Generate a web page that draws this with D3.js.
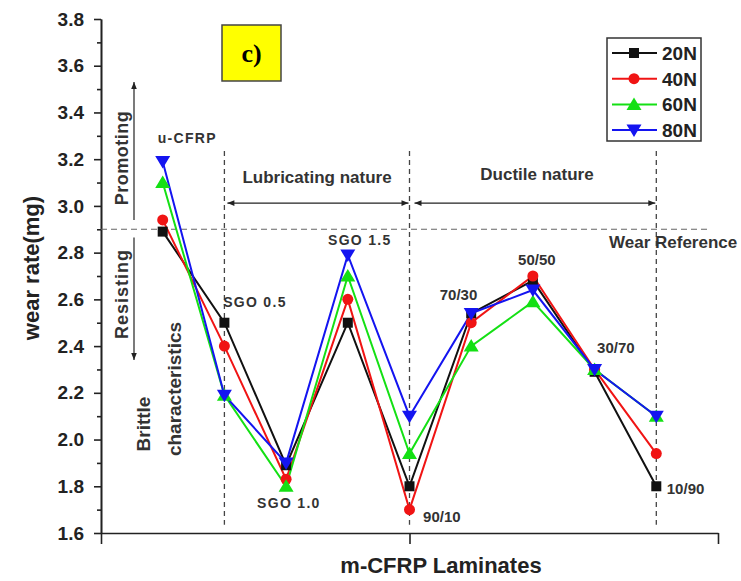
<!DOCTYPE html>
<html>
<head>
<meta charset="utf-8">
<script src="https://cdn.jsdelivr.net/npm/d3@7"></script>
<style>
  body { margin: 0; background: #fff; }
  svg { font-family: "Liberation Sans", Arial, sans-serif; }
  .tick text { font-weight: bold; font-size: 19px; fill: #222; }
  .lbl { font-weight: bold; fill: #333; }
</style>
</head>
<body>
<svg></svg>
<script>
let categories = ["u-CFRP", "SGO 0.5", "SGO 1.0", "SGO 1.5", "90/10", "70/30", "50/50", "30/70", "10/90"]
let seriesNames = ["20N", "40N", "60N", "80N"]
let load20 = [2.89, 2.50, 1.89, 2.50, 1.80, 2.54, 2.68, 2.29, 1.80]
let load40 = [2.94, 2.40, 1.83, 2.60, 1.70, 2.50, 2.70, 2.30, 1.94]
let load60 = [3.10, 2.19, 1.80, 2.70, 1.94, 2.40, 2.59, 2.30, 2.10]
let load80 = [3.19, 2.19, 1.90, 2.79, 2.10, 2.54, 2.64, 2.30, 2.10]
let yTicks = [1.6, 1.8, 2.0, 2.2, 2.4, 2.6, 2.8, 3.0, 3.2, 3.4, 3.6, 3.8]
let wearReference = 2.9

let colors = ["#111111", "#f01414", "#14e014", "#1414f0"]
let shapes = ["square", "circle", "triangle", "down"]
let allSeries = [load20, load40, load60, load80]

var svg = d3.select("svg")
    .attr("width", 741)
    .attr("height", 581)

let scX = d3.scaleLinear().domain([0, 10]).range([101, 718])
let scY = d3.scaleLinear().domain([1.6, 3.8]).range([533, 19])

// axes
let yAxis = d3.axisLeft(scY).tickValues(yTicks).tickFormat(d3.format(".1f"))
    .tickSize(7).tickSizeOuter(0).tickPadding(10)
let yMinor = d3.axisLeft(scY).tickValues(yTicks.slice(0, -1).map(d => d + 0.1))
    .tickSize(4).tickFormat("").tickSizeOuter(0)
let xAxis = d3.axisBottom(scX).tickValues([0, 5, 10]).tickFormat("")
    .tickSize(11).tickSizeOuter(0)

svg.append("g").attr("transform", "translate(101,0)").call(yAxis)
    .selectAll("path,line").attr("stroke", "#222").attr("stroke-width", 1.6)
svg.append("g").attr("transform", "translate(101,0)").call(yMinor)
    .selectAll("path,line").attr("stroke", "#222").attr("stroke-width", 1.6)
svg.append("g").attr("transform", `translate(0,${scY(1.6)})`).call(xAxis)
    .selectAll("path,line").attr("stroke", "#222").attr("stroke-width", 1.6)

// reference lines
svg.append("line")
    .attr("x1", scX(0)).attr("x2", 710)
    .attr("y1", scY(wearReference)).attr("y2", scY(wearReference))
    .attr("stroke", "#666").attr("stroke-width", 1.2).attr("stroke-dasharray", "6,4")

;[2, 5, 9].forEach(i => {
    svg.append("line")
        .attr("x1", scX(i)).attr("x2", scX(i))
        .attr("y1", scY(3.235)).attr("y2", scY(1.635))
        .attr("stroke", "#444").attr("stroke-width", 1.3).attr("stroke-dasharray", "5,4")
})

// arrow heads
let defs = svg.append("defs")
defs.append("marker").attr("id", "ah").attr("viewBox", "0 0 10 10")
    .attr("refX", 10).attr("refY", 5).attr("markerWidth", 9).attr("markerHeight", 7)
    .attr("markerUnits", "userSpaceOnUse").attr("orient", "auto-start-reverse")
    .append("path").attr("d", "M0,1 L10,5 L0,9 Z").attr("fill", "#222")

function arrow(x1, y1, x2, y2, both) {
    let l = svg.append("line")
        .attr("x1", x1).attr("y1", y1).attr("x2", x2).attr("y2", y2)
        .attr("stroke", "#222").attr("stroke-width", 1.2)
        .attr("marker-end", "url(#ah)")
    if (both) l.attr("marker-start", "url(#ah)")
}
arrow(scX(2) + 3, scY(3.012), scX(5) - 1, scY(3.012), true)
arrow(scX(5) + 5, scY(3.012), scX(9) - 1, scY(3.012), true)
arrow(134, scY(2.94), 134, scY(3.53), false)
arrow(134, scY(2.865), 134, scY(2.34), false)

// lines & markers
let line = d3.line().x((d, i) => scX(i + 1)).y(d => scY(d))

allSeries.forEach((s, k) => {
    svg.append("path")
        .datum(s)
        .attr("d", line)
        .attr("fill", "none")
        .attr("stroke", colors[k])
        .attr("stroke-width", 2)
})

function drawMarker(g, shape, color) {
    if (shape == "square")
        g.append("rect").attr("x", -5).attr("y", -5).attr("width", 10).attr("height", 10).attr("fill", color)
    else if (shape == "circle")
        g.append("circle").attr("r", 5.5).attr("fill", color)
    else if (shape == "triangle")
        g.append("path").attr("d", "M0,-7 L7.5,5.5 L-7.5,5.5 Z").attr("fill", color)
    else
        g.append("path").attr("d", "M0,7 L7.5,-5.5 L-7.5,-5.5 Z").attr("fill", color)
}

allSeries.forEach((s, k) => {
    svg.append("g").selectAll("g")
        .data(s).enter().append("g")
        .attr("transform", (d, i) => `translate(${scX(i + 1)},${scY(d)})`)
        .each(function () { drawMarker(d3.select(this), shapes[k], colors[k]) })
})

// category labels (anchor in data units: x index, value)
let labelAnchors = [[0.92, 3.27], [1.98, 2.567], [2.53, 1.707], [3.68, 2.833], [5.22, 1.647],
    [5.49, 2.597], [6.76, 2.747], [8.04, 2.37], [9.17, 1.767]]
svg.selectAll(".cat").data(categories).enter().append("text")
    .attr("class", "lbl cat")
    .attr("x", (d, i) => scX(labelAnchors[i][0]))
    .attr("y", (d, i) => scY(labelAnchors[i][1]))
    .attr("font-size", (d, i) => i < 4 ? 14 : 15)
    .attr("letter-spacing", (d, i) => i < 4 ? 1.3 : 0)
    .text(d => d)

// region texts
svg.append("text").attr("class", "lbl").attr("x", 317).attr("y", 183)
    .attr("text-anchor", "middle").attr("font-size", 17).attr("fill", "#222").text("Lubricating nature")
svg.append("text").attr("class", "lbl").attr("x", 537).attr("y", 180)
    .attr("text-anchor", "middle").attr("font-size", 17).attr("fill", "#222").text("Ductile nature")
svg.append("text").attr("class", "lbl").attr("x", 609).attr("y", 248)
    .attr("font-size", 17).attr("fill", "#222").text("Wear Reference")

function vtext(x, y, size, str, sp) {
    svg.append("text").attr("class", "lbl")
        .attr("transform", `translate(${x},${y}) rotate(-90)`)
        .attr("text-anchor", "middle").attr("font-size", size)
        .attr("letter-spacing", sp || 0).attr("fill", "#222")
        .text(str)
}
vtext(128, 158, 18, "Promoting", 0.5)
vtext(128, 294, 18, "Resisting", 1)
vtext(150, 424, 19, "Brittle")
vtext(181, 389, 19, "characteristics")

// axis titles
svg.append("text")
    .attr("transform", "translate(39,268) rotate(-90)")
    .attr("text-anchor", "middle").attr("font-size", 22).attr("font-weight", "bold")
    .attr("fill", "#222").text("wear rate(mg)")
svg.append("text")
    .attr("x", 441).attr("y", 573)
    .attr("text-anchor", "middle").attr("font-size", 22).attr("font-weight", "bold")
    .attr("fill", "#222").text("m-CFRP Laminates")

// panel tag
svg.append("rect").attr("x", 222).attr("y", 25).attr("width", 59).attr("height", 56)
    .attr("fill", "#ffff00").attr("stroke", "#444").attr("stroke-width", 1.5)
svg.append("text").attr("x", 251.5).attr("y", 62).attr("text-anchor", "middle")
    .attr("font-family", "Liberation Serif, Times New Roman, serif")
    .attr("font-weight", "bold").attr("font-size", 26).text("c)")

// legend
let legend = svg.append("g")
legend.append("rect").attr("x", 607).attr("y", 38).attr("width", 94).attr("height", 103)
    .attr("fill", "#fff").attr("stroke", "#333").attr("stroke-width", 1.5)
seriesNames.forEach((name, k) => {
    let ly = 53 + k * 25.7
    legend.append("line").attr("x1", 612).attr("x2", 657).attr("y1", ly).attr("y2", ly)
        .attr("stroke", colors[k]).attr("stroke-width", 2)
    let g = legend.append("g").attr("transform", `translate(634,${ly})`)
    drawMarker(g, shapes[k], colors[k])
    legend.append("text").attr("x", 662).attr("y", ly).attr("dy", "0.36em")
        .attr("font-size", 19).attr("font-weight", "bold").attr("fill", "#222").text(name)
})
</script>
</body>
</html>
